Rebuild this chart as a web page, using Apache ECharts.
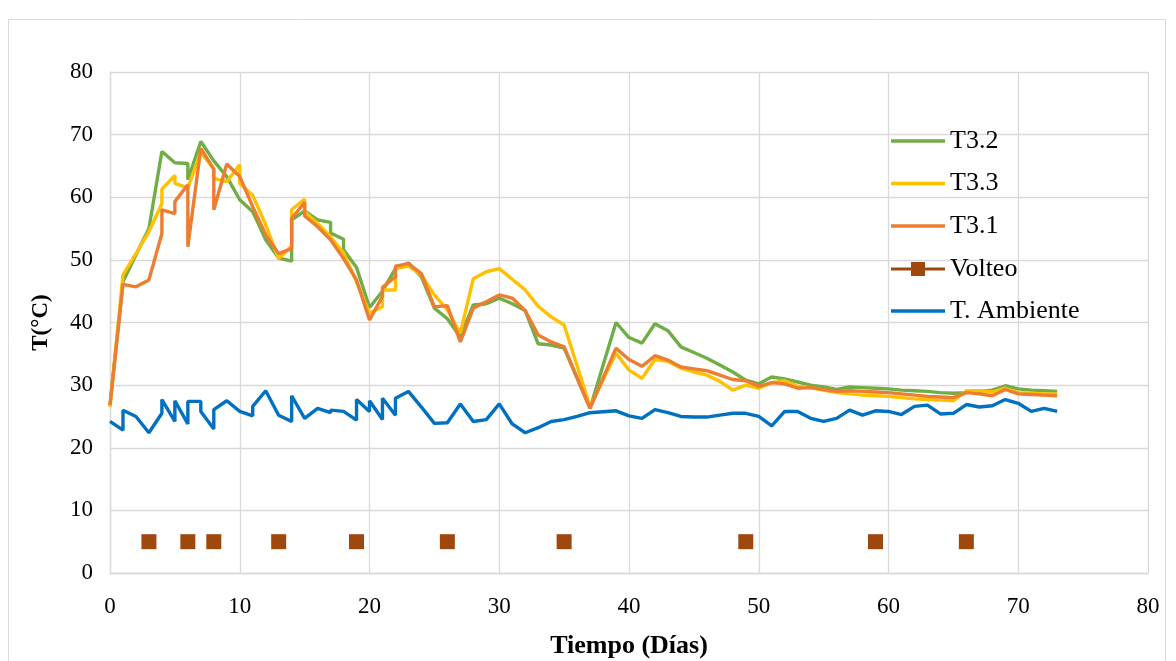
<!DOCTYPE html>
<html>
<head>
<meta charset="utf-8">
<script src="https://cdn.jsdelivr.net/npm/echarts@6/dist/echarts.min.js"></script>
<style>
html,body{margin:0;padding:0;background:#fff;}
#chart{width:1176px;height:661px;}
</style>
</head>
<body>
<div id="chart"></div>
<script>
const xTicks = [0,10,20,30,40,50,60,70,80];
const yTicks = [0,10,20,30,40,50,60,70,80];
const seriesNames = ['T3.2','T3.3','T3.1','Volteo','T. Ambiente'];

const t32 = [[0,26.8],[1,46.5],[2,50.8],[3,55],[4,67.3],[5,65.5],[6,65.4],[6,62.8],[7,68.9],[8,65.8],[9,63.3],[10,59.6],[11,57.7],[12,53.2],[13,50.3],[14,49.8],[14,56.4],[15,57.8],[16,56.4],[17,56.0],[17,54.3],[18,53.3],[18,51.6],[19,48.8],[20,42.4],[21,45],[22,48.6],[23,49.5],[24,47.3],[25,42.3],[26,40.6],[27,37.7],[28,42.8],[29,43],[30,43.9],[31,43],[32,41.9],[33,36.6],[34,36.4],[35,35.9],[37,26.3],[39,40],[40,37.6],[41,36.7],[42,39.8],[43,38.7],[44,36.1],[45,35.2],[46,34.3],[47,33.2],[48,32.1],[49,30.8],[50,30.2],[51,31.3],[52,31],[53,30.5],[54,30],[55,29.7],[56,29.3],[57,29.7],[58,29.6],[59,29.5],[60,29.4],[61,29.2],[62,29.1],[63,29],[64,28.8],[65,28.7],[66,28.8],[67,29],[68,29.2],[69,29.9],[70,29.4],[71,29.2],[72,29.1],[73,29]];

const t33 = [[0,26.5],[1,47.6],[2,51],[3,54.5],[4,59],[4,61.3],[5,63.5],[5,62.2],[6,61.5],[7,67.2],[8,64.5],[8,63],[9,62.5],[10,65.2],[10,62.2],[11,60.3],[12,55.6],[13,50.2],[14,52.2],[14,58],[15,59.7],[15,57.7],[16,55.8],[17,53.7],[18,51.1],[19,46.5],[20,41.5],[21,42.5],[21,45.2],[22,45.2],[22,48.6],[23,49],[24,47.6],[25,44.4],[26,42],[27,38.3],[28,47],[29,48.1],[30,48.6],[31,46.9],[32,45.2],[33,42.6],[34,40.9],[35,39.6],[37,26.6],[39,35.1],[40,32.4],[41,31.1],[42,34.1],[43,33.8],[44,32.7],[45,32.1],[46,31.6],[47,30.6],[48,29.2],[49,30],[50,29.5],[51,30.4],[52,30.7],[53,29.8],[54,29.6],[55,29.2],[56,28.8],[57,28.6],[58,28.4],[59,28.3],[60,28.2],[61,28],[62,27.8],[63,27.7],[64,27.6],[65,27.5],[66,29.1],[67,29.1],[68,28.9],[69,29.5],[70,28.8],[71,28.7],[72,28.6],[73,28.6]];

const t31 = [[0,26.8],[1,46.1],[2,45.7],[3,46.8],[4,54.2],[4,58],[5,57.4],[5,59.3],[6,62],[6,52.1],[7,67.8],[8,64.5],[8,58],[9,65.3],[10,63.3],[11,58.5],[12,54],[13,51],[14,51.8],[14,56.6],[15,59.2],[15,57],[16,55.3],[17,53.2],[18,50.2],[19,46.8],[20,40.4],[21,44.2],[21,45.6],[22,47.3],[22,49],[23,49.4],[24,47.8],[25,42.5],[26,42.7],[27,36.9],[28,42.3],[29,43.3],[30,44.4],[31,43.9],[32,41.9],[33,38],[34,36.9],[35,36.1],[37,26.3],[39,35.9],[40,34.1],[41,33],[42,34.7],[43,34],[44,32.9],[45,32.6],[46,32.3],[47,31.6],[48,30.9],[49,30.7],[50,29.8],[51,30.4],[52,30.2],[53,29.5],[54,29.6],[55,29.3],[56,29],[57,29.1],[58,29],[59,28.9],[60,28.8],[61,28.6],[62,28.4],[63,28.2],[64,28.1],[65,28],[66,28.8],[67,28.6],[68,28.3],[69,29.3],[70,28.6],[71,28.5],[72,28.4],[73,28.3]];

const volteoDays = [3,6,8,13,19,26,35,49,59,66];
const volteoLevel = 5;

const tAmb = [[0,24.2],[1,22.8],[1,26],[2,25],[3,22.4],[4,25.5],[4,27.7],[5,24.2],[5,27.5],[6,23.8],[6,27.4],[7,27.4],[7,25.8],[8,23],[8,26.1],[9,27.5],[10,25.8],[11,25.1],[11,26.6],[12,29.1],[13,25.2],[14,24.2],[14,28.3],[15,24.7],[16,26.3],[17,25.6],[17,26],[18,25.8],[19,24.4],[19,27.7],[20,25.8],[20,27.5],[21,24.5],[21,27.9],[22,25.2],[22,27.9],[23,29],[24,26.5],[25,23.9],[26,24],[27,27],[28,24.2],[29,24.5],[30,27],[31,23.8],[32,22.4],[33,23.2],[34,24.2],[35,24.5],[36,25],[37,25.6],[39,25.9],[40,25.1],[41,24.7],[42,26.1],[43,25.6],[44,25],[45,24.9],[46,24.9],[47,25.2],[48,25.5],[49,25.5],[50,25],[51,23.5],[52,25.8],[53,25.8],[54,24.7],[55,24.2],[56,24.7],[57,26],[58,25.2],[59,25.9],[60,25.8],[61,25.3],[62,26.6],[63,26.8],[64,25.4],[65,25.5],[66,26.9],[67,26.5],[68,26.7],[69,27.7],[70,27.1],[71,25.8],[72,26.3],[73,25.8]];

const colors = {green:'#70AD47', yellow:'#FFC000', orange:'#ED7D31', brown:'#9E480E', blue:'#0070C0'};
const font = '"Liberation Serif","Times New Roman",serif';

const chart = echarts.init(document.getElementById('chart'), null, {renderer:'canvas'});

function lineSeries(name, data, color){
  return {
    name: name, type:'line', data: data, showSymbol:false, symbol:'none',
    lineStyle:{color: color, width:3.4}, itemStyle:{color: color},
    animation:false, silent:true
  };
}

const legendText = {fontFamily:font, fontSize:26, color:'#000', lineHeight:26};
function legendBlock(names, top, itemHeight, icon){
  return {
    orient:'vertical', left:891, top:top, padding:0,
    itemWidth:54, itemHeight:itemHeight, itemGap:16.5,
    textStyle:legendText, icon:icon, selectedMode:false,
    data:names
  };
}

const option = {
  backgroundColor:'#ffffff',
  animation:false,
  graphic:[{
    type:'rect', shape:{x:8.5, y:19.5, width:1157, height:700},
    style:{fill:'none', stroke:'#D9D9D9', lineWidth:1}, silent:true, z:-10
  }],
  grid:{left:110, right:28, top:72, bottom:88, containLabel:false, outerBoundsMode:'none'},
  legend:[
    legendBlock(seriesNames.slice(0,3), 128, 3.5, 'rect'),
    legendBlock([seriesNames[3]], 256, 14, 'path://M0,5.5H54V8.5H0Z M20,0H34V14H20Z'),
    legendBlock([seriesNames[4]], 298, 3.5, 'rect')
  ],
  xAxis:{
    type:'value', min:xTicks[0], max:xTicks[xTicks.length-1], interval:10,
    name:'Tiempo (Días)', nameLocation:'middle', nameGap:60,
    nameTextStyle:{fontFamily:font, fontSize:26, fontWeight:'bold', color:'#000'},
    axisLine:{show:true, lineStyle:{color:'#D9D9D9', width:1.3}},
    axisTick:{show:false},
    axisLabel:{fontFamily:font, fontSize:23, color:'#000', margin:22},
    splitLine:{show:true, lineStyle:{color:'#D9D9D9', width:1.3}}
  },
  yAxis:{
    type:'value', min:yTicks[0], max:yTicks[yTicks.length-1], interval:10,
    name:'T(°C)', nameLocation:'middle', nameGap:57, nameRotate:90,
    nameTextStyle:{fontFamily:font, fontSize:23, fontWeight:'bold', color:'#000'},
    axisLine:{show:true, lineStyle:{color:'#D9D9D9', width:1.3}},
    axisTick:{show:false},
    axisLabel:{fontFamily:font, fontSize:23, color:'#000', margin:17},
    splitLine:{show:true, lineStyle:{color:'#D9D9D9', width:1.3}}
  },
  series:[
    lineSeries(seriesNames[0], t32, colors.green),
    lineSeries(seriesNames[1], t33, colors.yellow),
    lineSeries(seriesNames[2], t31, colors.orange),
    {
      name:seriesNames[3], type:'scatter',
      data: volteoDays.map(d => [d, volteoLevel]),
      symbol:'rect', symbolSize:15,
      itemStyle:{color:colors.brown, opacity:1},
      silent:true, animation:false
    },
    lineSeries(seriesNames[4], tAmb, colors.blue)
  ]
};
chart.setOption(option);
</script>
</body>
</html>
